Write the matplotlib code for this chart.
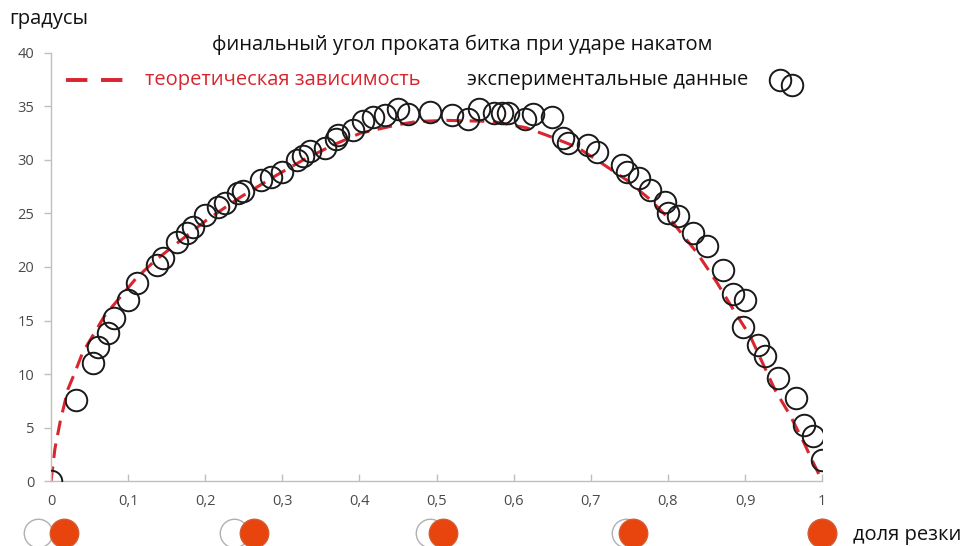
import matplotlib
matplotlib.use("Agg")
import matplotlib.pyplot as plt
from matplotlib.transforms import blended_transform_factory

plt.rcParams['font.family'] = ['Open Sans', 'DejaVu Sans']

# experimental points: cut fraction vs final roll angle (degrees)
cut_exp = [0.0, 0.032, 0.054, 0.061, 0.074, 0.082, 0.100, 0.111, 0.138, 0.145,
           0.163, 0.176, 0.184, 0.200, 0.216, 0.226, 0.242, 0.249, 0.272, 0.285,
           0.300, 0.319, 0.327, 0.336, 0.355, 0.369, 0.372, 0.392, 0.404, 0.417,
           0.433, 0.450, 0.463, 0.491, 0.520, 0.541, 0.555, 0.575, 0.585, 0.593,
           0.615, 0.625, 0.650, 0.664, 0.671, 0.696, 0.708, 0.741, 0.747, 0.762,
           0.777, 0.796, 0.800, 0.813, 0.832, 0.851, 0.872, 0.885, 0.900, 0.898,
           0.917, 0.926, 0.943, 0.966, 0.977, 0.988, 1.0]
angle_exp = [0.0, 7.6, 11.0, 12.5, 13.8, 15.2, 16.9, 18.5, 20.2, 20.8,
             22.3, 23.2, 23.7, 24.9, 25.6, 26.0, 26.9, 27.1, 28.1, 28.4,
             28.9, 30.0, 30.4, 30.8, 31.1, 32.0, 32.3, 32.8, 33.6, 34.0,
             34.2, 34.8, 34.3, 34.5, 34.2, 33.8, 34.8, 34.4, 34.4, 34.4,
             33.8, 34.3, 34.0, 32.1, 31.6, 31.4, 30.7, 29.5, 28.9, 28.3,
             27.2, 26.1, 25.0, 24.8, 23.2, 22.0, 19.7, 17.5, 16.9, 14.4,
             12.7, 11.7, 9.6, 7.8, 5.2, 4.2, 2.0]

# theoretical dependence
cut_theory = [0.0, 0.005, 0.012, 0.022, 0.029, 0.041, 0.070, 0.111, 0.135, 0.163,
              0.202, 0.245, 0.293, 0.327, 0.366, 0.401, 0.450, 0.475, 0.514, 0.573,
              0.617, 0.647, 0.682, 0.712, 0.747, 0.777, 0.807, 0.838, 0.864, 0.885,
              0.907, 0.923, 0.939, 0.958, 0.975, 0.988, 1.0]
angle_theory = [0.0, 3.0, 5.6, 8.6, 9.8, 12.0, 15.5, 19.0, 20.6, 22.2,
                24.4, 26.5, 28.6, 30.0, 31.4, 32.5, 33.3, 33.6, 33.7, 33.6,
                33.0, 32.2, 31.2, 29.8, 28.1, 26.3, 24.1, 21.3, 18.5, 16.0,
                13.5, 11.0, 8.5, 6.2, 3.8, 1.8, 0.0]

x_ticks = [0, 0.1, 0.2, 0.3, 0.4, 0.5, 0.6, 0.7, 0.8, 0.9, 1.0]
x_tick_labels = ['0', '0,1', '0,2', '0,3', '0,4', '0,5', '0,6', '0,7', '0,8', '0,9', '1']
y_ticks = [0, 5, 10, 15, 20, 25, 30, 35, 40]

# ball-overlap pictograms under the axis
cut_icons = [0.0, 0.25, 0.5, 0.75, 1.0]

RED = '#d9252f'
ORANGE = '#e8440e'
GREY = '#bfbfbf'
FS = 14.5

fig = plt.figure(figsize=(9.63, 5.46), dpi=100)
ax = fig.add_axes([0.053, 0.119, 0.8007, 0.784])

ax.plot(cut_theory, angle_theory, color=RED, lw=2.2, ls=(0, (4.8, 2.8)), zorder=2)
ax.plot(cut_exp, angle_exp, ls='none', marker='o', ms=15.5, mfc='none',
        mec='#1a1a1a', mew=1.4, zorder=3)

ax.set_xlim(0, 1)
ax.set_ylim(0, 40)
ax.set_xticks(x_ticks)
ax.set_xticklabels(x_tick_labels)
ax.set_yticks(y_ticks)

for side in ('top', 'right'):
    ax.spines[side].set_visible(False)
for side in ('left', 'bottom'):
    ax.spines[side].set_color(GREY)
    ax.spines[side].set_linewidth(1.0)
ax.spines['bottom'].set_zorder(1)
ax.tick_params(axis='both', colors=GREY, labelcolor='#4a4a4a', labelsize=10.5,
               length=5, width=1.0)
ax.tick_params(axis='x', direction='in', pad=9)
ax.tick_params(axis='y', direction='out', pad=7)

# titles and labels
fig.text(0.010, 0.966, 'градусы', fontsize=FS, color='#111111', ha='left', va='center')
fig.text(0.480, 0.918, 'финальный угол проката битка при ударе накатом',
         fontsize=FS, color='#111111', ha='center', va='center')
fig.text(0.886, 0.020, 'доля резки', fontsize=FS, color='#111111', ha='left', va='center')

# legend
ax.plot([0.020, 0.103], [0.937, 0.937], transform=ax.transAxes, color=RED, lw=2.8,
        ls=(0, (5.5, 3.5)), clip_on=False)
ax.text(0.122, 0.937, 'теоретическая зависимость', transform=ax.transAxes,
        fontsize=FS, color=RED, ha='left', va='center')
ax.text(0.540, 0.937, 'экспериментальные данные', transform=ax.transAxes,
        fontsize=FS, color='#111111', ha='left', va='center')
ax.plot([0.946, 0.961], [0.937, 0.925], transform=ax.transAxes, ls='none',
        marker='o', ms=15.5, mfc='none', mec='#1a1a1a', mew=1.4, clip_on=False)

# pictograms: object ball (white) and cue ball (orange)
trans = blended_transform_factory(ax.transData, ax.transAxes)
sep = 0.034
for f in cut_icons:
    shift = (1 - f) * sep / 2
    ax.scatter([f - shift], [-0.122], s=420, transform=trans, facecolor='white',
               edgecolor='#b0b0b0', linewidth=1.0, clip_on=False, zorder=4)
    ax.scatter([f + shift], [-0.122], s=420, transform=trans, facecolor=ORANGE,
               edgecolor='#d85a30', linewidth=1.0, clip_on=False, zorder=5)

fig.savefig('out.png', dpi=100)
